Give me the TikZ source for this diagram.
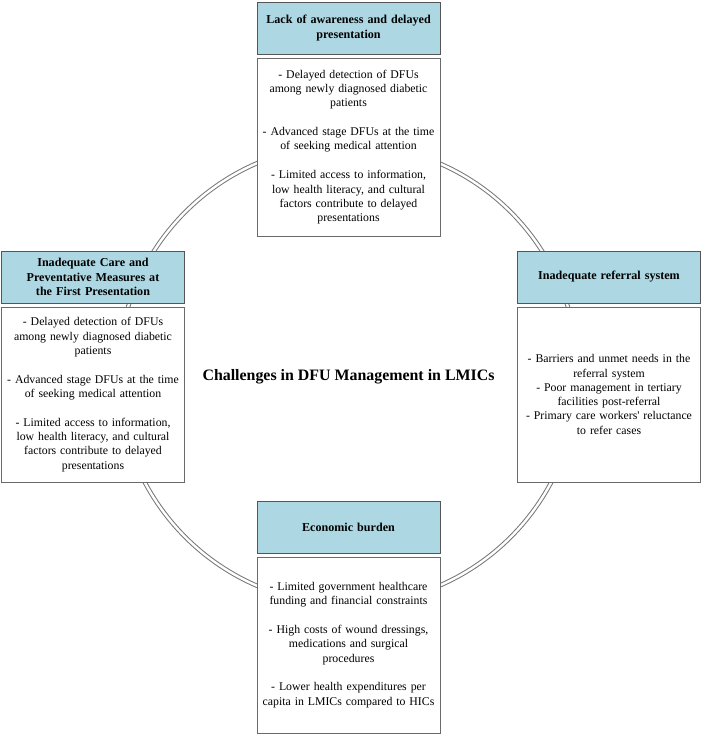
\documentclass[tikz,border=0pt]{standalone}
\usepackage{fontspec}
\setmainfont{Liberation Serif}
\definecolor{hdrfill}{HTML}{ADD8E3}
\definecolor{hdrline}{HTML}{555555}
\definecolor{bodyline}{HTML}{6A6A6A}
\definecolor{ringline}{HTML}{777777}
\tikzset{
  hdr/.style={draw=hdrline, fill=hdrfill, line width=0.9pt, minimum width=183pt, minimum height=52pt,
    align=center, text width=180pt, inner sep=0pt, font=\bfseries\fontsize{12.1}{14.3}\selectfont},
  bodybox/.style={draw=bodyline, fill=white, line width=0.9pt, minimum width=183pt,
    align=center, text width=182pt, inner sep=0pt, font=\fontsize{11.8}{14.3}\selectfont},
  ring/.style={circle, draw=ringline, double=white, double distance=2.4pt, line width=1pt,
    minimum size=460pt, inner sep=0pt},
  title/.style={font=\bfseries\fontsize{15.9}{18}\selectfont}
}
\begin{document}
\begin{tikzpicture}[x=1pt,y=-1pt]
\useasboundingbox (0,0) rectangle (702,734);
\node[ring] (ring) at (348,374.5) {};
\node[title] (center) at (348.5,377) {Challenges in DFU Management in LMICs};
% top
\node[hdr] (tophdr) at (348.5,28) {Lack of awareness and delayed\\presentation};
\node[bodybox, minimum height=178pt] (topbody) at (348.5,147) {- Delayed detection of DFUs\\among newly diagnosed diabetic\\patients\\[14.5pt]- Advanced stage DFUs at the time\\of seeking medical attention\\[14.5pt]- Limited access to information,\\low health literacy, and cultural\\factors contribute to delayed\\presentations};
% left
\node[hdr] (lefthdr) at (93,277) {Inadequate Care and\\Preventative Measures at\\the First Presentation};
\node[bodybox, minimum height=175pt] (leftbody) at (93,394.5) {- Delayed detection of DFUs\\among newly diagnosed diabetic\\patients\\[14.5pt]- Advanced stage DFUs at the time\\of seeking medical attention\\[14.5pt]- Limited access to information,\\low health literacy, and cultural\\factors contribute to delayed\\presentations};
% right
\node[hdr] (righthdr) at (609,277) {Inadequate referral system};
\node[bodybox, minimum height=175pt] (rightbody) at (609,394.5) {- Barriers and unmet needs in the\\referral system\\- Poor management in tertiary\\facilities post-referral\\- Primary care workers\textquotesingle\ reluctance\\to refer cases};
% bottom
\node[hdr] (bothdr) at (348.5,527) {Economic burden};
\node[bodybox, minimum height=176pt] (botbody) at (348.5,645) {- Limited government healthcare\\funding and financial constraints\\[14.5pt]- High costs of wound dressings,\\medications and surgical\\procedures\\[14.5pt]- Lower health expenditures per\\capita in LMICs compared to HICs};
\end{tikzpicture}
\end{document}
